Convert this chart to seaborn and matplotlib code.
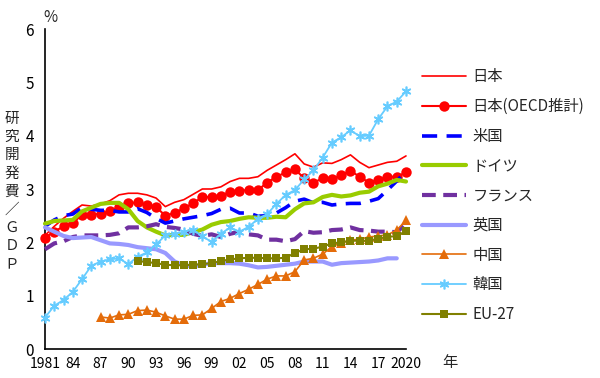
import numpy as np
import pandas as pd
import matplotlib
matplotlib.use("Agg")
import matplotlib.pyplot as plt
import seaborn as sns

years = list(range(1981, 2021))
nan = np.nan

japan = [2.13, 2.30, 2.45, 2.58, 2.70, 2.68, 2.72, 2.78, 2.89, 2.92,
         2.92, 2.89, 2.83, 2.67, 2.75, 2.80, 2.90, 3.00, 3.00, 3.04,
         3.14, 3.20, 3.20, 3.23, 3.35, 3.45, 3.55, 3.66, 3.47, 3.41,
         3.49, 3.48, 3.55, 3.64, 3.50, 3.40, 3.45, 3.50, 3.52, 3.62]
japan_oecd = [2.09, 2.20, 2.30, 2.37, 2.51, 2.52, 2.54, 2.58, 2.67, 2.73,
              2.75, 2.70, 2.66, 2.50, 2.55, 2.64, 2.73, 2.85, 2.85, 2.87,
              2.95, 2.97, 2.98, 2.98, 3.12, 3.23, 3.31, 3.37, 3.20, 3.12,
              3.20, 3.18, 3.26, 3.34, 3.23, 3.12, 3.17, 3.23, 3.23, 3.31]
usa = [2.30, 2.42, 2.50, 2.53, 2.65, 2.62, 2.60, 2.60, 2.57, 2.57,
       2.63, 2.56, 2.45, 2.36, 2.40, 2.44, 2.47, 2.50, 2.54, 2.62,
       2.64, 2.55, 2.55, 2.49, 2.50, 2.55, 2.65, 2.77, 2.81, 2.74,
       2.75, 2.70, 2.72, 2.73, 2.73, 2.77, 2.82, 2.98, 3.15, 3.33]
germany = [2.35, 2.40, 2.41, 2.42, 2.58, 2.65, 2.72, 2.74, 2.74, 2.62,
           2.40, 2.28, 2.20, 2.13, 2.14, 2.14, 2.19, 2.24, 2.33, 2.38,
           2.40, 2.44, 2.47, 2.46, 2.46, 2.48, 2.47, 2.62, 2.73, 2.75,
           2.85, 2.89, 2.86, 2.88, 2.93, 2.95, 3.05, 3.10, 3.17, 3.14]
france = [1.87, 1.98, 2.02, 2.10, 2.13, 2.13, 2.13, 2.14, 2.17, 2.28,
          2.28, 2.30, 2.34, 2.29, 2.27, 2.24, 2.16, 2.12, 2.15, 2.10,
          2.16, 2.20, 2.15, 2.13, 2.05, 2.05, 2.02, 2.06, 2.21, 2.18,
          2.19, 2.23, 2.24, 2.28, 2.23, 2.22, 2.20, 2.20, 2.19, 2.35]
uk = [2.28, 2.20, 2.12, 2.08, 2.09, 2.10, 2.04, 1.98, 1.97, 1.95,
      1.91, 1.89, 1.87, 1.80, 1.64, 1.57, 1.55, 1.58, 1.61, 1.61,
      1.61, 1.60, 1.57, 1.53, 1.54, 1.56, 1.58, 1.60, 1.64, 1.64,
      1.64, 1.58, 1.61, 1.62, 1.63, 1.64, 1.66, 1.70, 1.70, nan]
china = [nan, nan, nan, nan, nan, nan, 0.60, 0.58, 0.64, 0.65,
         0.72, 0.73, 0.69, 0.62, 0.56, 0.56, 0.63, 0.64, 0.76, 0.89,
         0.95, 1.04, 1.12, 1.21, 1.31, 1.37, 1.37, 1.45, 1.67, 1.70,
         1.78, 1.92, 1.99, 2.04, 2.06, 2.10, 2.12, 2.14, 2.23, 2.41]
korea = [0.59, 0.81, 0.92, 1.07, 1.31, 1.56, 1.64, 1.68, 1.70, 1.59,
         1.73, 1.81, 1.96, 2.13, 2.16, 2.20, 2.24, 2.11, 2.01, 2.16,
         2.28, 2.20, 2.29, 2.44, 2.53, 2.72, 2.89, 2.98, 3.18, 3.35,
         3.59, 3.87, 3.97, 4.10, 3.99, 4.00, 4.31, 4.55, 4.64, 4.83]
eu27 = [nan, nan, nan, nan, nan, nan, nan, nan, nan, nan,
        1.65, 1.63, 1.61, 1.58, 1.57, 1.57, 1.58, 1.59, 1.61, 1.65,
        1.68, 1.70, 1.71, 1.71, 1.70, 1.70, 1.71, 1.80, 1.87, 1.88,
        1.92, 1.98, 2.00, 2.03, 2.03, 2.03, 2.07, 2.10, 2.12, 2.21]

series_names = ["日本", "日本(OECD推計)", "米国", "ドイツ", "フランス", "英国", "中国", "韓国", "EU-27"]
series_values = [japan, japan_oecd, usa, germany, france, uk, china, korea, eu27]

tick_years = [1981, 1984, 1987, 1990, 1993, 1996, 1999, 2002, 2005, 2008, 2011, 2014, 2017, 2020]
tick_labels = ["1981", "84", "87", "90", "93", "96", "99", "02", "05", "08", "11", "14", "17", "2020"]

styles = {
    "日本": dict(color="#FF0000", lw=1.2, dashes=None, marker=None, ms=0, mew=0),
    "日本(OECD推計)": dict(color="#FF0000", lw=1.5, dashes=None, marker="o", ms=7.5, mew=0),
    "米国": dict(color="#0000FF", lw=2.6, dashes=(4.2, 2.6), marker=None, ms=0, mew=0),
    "ドイツ": dict(color="#99CC00", lw=3.0, dashes=None, marker=None, ms=0, mew=0),
    "フランス": dict(color="#7030A0", lw=3.0, dashes=(3.3, 1.8), marker=None, ms=0, mew=0),
    "英国": dict(color="#9999FF", lw=3.0, dashes=None, marker=None, ms=0, mew=0),
    "中国": dict(color="#E46C0A", lw=1.2, dashes=None, marker="^", ms=7, mew=0),
    "韓国": dict(color="#66CCFF", lw=1.3, dashes=None, marker=(6, 2, 0), ms=7, mew=1.2),
    "EU-27": dict(color="#808000", lw=1.5, dashes=None, marker="s", ms=6, mew=0),
}

sns.set_style("white")
plt.rcParams["font.family"] = ["Noto Sans CJK JP", "DejaVu Sans"]

W, H = 600, 378
fig = plt.figure(figsize=(W / 100, H / 100), dpi=100)
ax = fig.add_axes([45 / W, 1 - 349 / H, (406 - 45) / W, (349 - 29) / H])

for name, vals in zip(series_names, series_values):
    st = styles[name]
    df = pd.DataFrame({"year": years, "value": vals})
    n0 = len(ax.lines)
    sns.lineplot(data=df, x="year", y="value", ax=ax, label=name,
                 color=st["color"], linewidth=st["lw"], legend=False)
    line = ax.lines[n0]
    line.set_linestyle("-")
    if st["dashes"] is not None:
        line.set_dashes(st["dashes"])
    if st["marker"] is not None:
        line.set_marker(st["marker"])
        line.set_markersize(st["ms"])
        line.set_markeredgewidth(st["mew"])
        line.set_markerfacecolor(st["color"])
        line.set_markeredgecolor(st["color"])
    line.set_clip_on(False)
    line.set_label(name)

ax.set_xlim(1981, 2020)
ax.set_ylim(0, 6)
ax.set_xlabel("")
ax.set_ylabel("")
for s in ["top", "right"]:
    ax.spines[s].set_visible(False)
for s in ["left", "bottom"]:
    ax.spines[s].set_color("black")
    ax.spines[s].set_linewidth(1.2)
    ax.spines[s].set_zorder(0.5)

ax.set_xticks(years)
lab_map = dict(zip(tick_years, tick_labels))
ax.set_xticklabels([lab_map.get(y, "") for y in years])
ax.set_yticks(range(0, 7))
ax.set_yticklabels([str(v) for v in range(0, 7)])
ax.tick_params(axis="both", direction="in", length=5, width=1.1, colors="black")
ax.tick_params(axis="x", pad=6, labelsize=10)
ax.tick_params(axis="y", pad=8, labelsize=11)

handles = [l for l in ax.lines if l.get_label() in series_names]
leg = ax.legend(handles=handles, labels=series_names,
                loc="upper left", bbox_to_anchor=(422 / W, 1 - 68.5 / H),
                bbox_transform=fig.transFigure, frameon=False, fontsize=11,
                handlelength=2.9, handletextpad=0.4, labelspacing=0.83,
                borderpad=0, borderaxespad=0)

fig.text(50 / W, 1 - 18 / H, "%", ha="center", va="center", fontsize=11)
fig.text(450 / W, 1 - 362 / H, "年", ha="center", va="center", fontsize=11)

ylab_chars = ["研", "究", "開", "発", "費", "／", "Ｇ", "Ｄ", "Ｐ"]
for i, ch in enumerate(ylab_chars):
    fig.text(12 / W, 1 - (119 + 18.2 * i) / H, ch, ha="center", va="center", fontsize=10.5)

fig.savefig("out.png", dpi=100)
